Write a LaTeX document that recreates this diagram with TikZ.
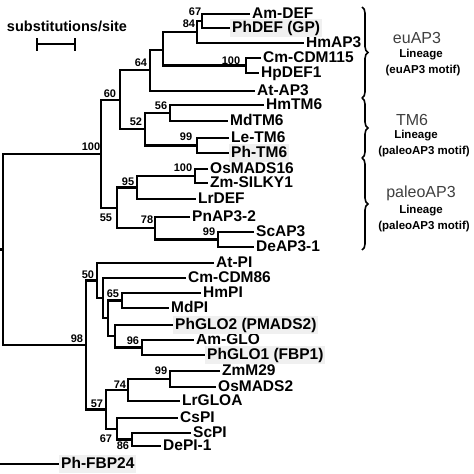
\documentclass[tikz,border=0pt]{standalone}
\usepackage{fontspec}
\setmainfont{Liberation Sans}
\usetikzlibrary{decorations.pathreplacing}

\begin{document}
\begin{tikzpicture}[x=1pt, y=-1pt, every node/.style={align=center}]
\tikzset{
  leaf/.style={font=\fontsize{15.5}{17}\selectfont\bfseries, anchor=west, inner xsep=2pt, inner ysep=1.5pt, text height=11.5pt, text depth=3pt},
  hl/.style={leaf, fill=gray!12},
  boot/.style={font=\fontsize{11}{12}\selectfont\bfseries, inner sep=0pt},
  branch/.style={line width=2.7pt},
  cladename/.style={font=\fontsize{16}{18}\selectfont, text=black!75, inner sep=0pt},
  lineage/.style={font=\fontsize{11.5}{13}\selectfont\bfseries, inner sep=0pt},
  bracket/.style={decorate, decoration={brace, amplitude=6pt}, line width=1.6pt}
}
\useasboundingbox (0,0) rectangle (474,474);

% leaves
\foreach \nm/\x/\y/\lbl in {amdef/250/14/Am-DEF, hmap3/304/43/HmAP3, cmcdm/261/58/Cm-CDM115,
    hpdef/259/73/HpDEF1, atap3/255/91/At-AP3, hmtm6/264/105/HmTM6, mdtm6/228/121/MdTM6,
    letm6/229/138/Le-TM6, osmads16/208/169/OsMADS16, zmsilky/208/183/Zm-SILKY1,
    lrdef/196/199/LrDEF, pnap3/190/217/PnAP3-2, scap3/254/232/ScAP3, deap3/254/247/DeAP3-1,
    atpi/214/263/At-PI, cmcdm86/186/278/Cm-CDM86, hmpi/201/293/HmPI, mdpi/169/308/MdPI,
    amglo/194/340/Am-GLO, zmm29/220/371/ZmM29, osmads2/216/387/OsMADS2,
    lrgloa/180/401/LrGLOA, cspi/178/418/CsPI, scpi/191/433/ScPI, depi/161/446/DePI-1}
  \node[leaf] (\nm) at (\x,\y) {\lbl};
\foreach \nm/\x/\y/\lbl in {phdef/230/28/{PhDEF (GP)}, phtm6/229/153/Ph-TM6,
    phglo2/173/325/{PhGLO2 (PMADS2)}, phglo1/205/355/{PhGLO1 (FBP1)}, phfbp/59/464/Ph-FBP24}
  \node[hl] (\nm) at (\x,\y) {\lbl};

% inner nodes of the tree
\coordinate (n67) at (202,21);
\coordinate (n84) at (197,32);
\coordinate (neu) at (163,50);
\coordinate (n100a) at (246,65.5);
\coordinate (n64) at (150,70);
\coordinate (n56) at (170,113);
\coordinate (n99a) at (197,145.5);
\coordinate (n52) at (145,129);
\coordinate (n60) at (120,100);
\coordinate (n100b) at (195,176);
\coordinate (n95) at (137,187.5);
\coordinate (n99b) at (218,239.5);
\coordinate (n78) at (155,228);
\coordinate (n55) at (117,208);
\coordinate (n100r) at (101,154);
\coordinate (n65) at (122,300.5);
\coordinate (n96) at (142,347.5);
\coordinate (nglo) at (115,336);
\coordinate (npi) at (108,318);
\coordinate (ncdm) at (103,298);
\coordinate (n50) at (97,280.5);
\coordinate (n99c) at (170,379);
\coordinate (n74) at (128,390);
\coordinate (n86) at (132,439.5);
\coordinate (n67b) at (117,429);
\coordinate (n57) at (106,409.5);
\coordinate (n98) at (86,345);
\coordinate (root) at (3,249.5);
\coordinate (stem) at (0,249.5);
\coordinate (fbpstem) at (0,464);

\foreach \a/\p/\b in {amdef.west/n67/phdef.west, n67/n84/hmap3.west, n84/neu/n100a,
    cmcdm.west/n100a/hpdef.west, neu/n64/atap3.west, hmtm6.west/n56/mdtm6.west,
    letm6.west/n99a/phtm6.west, n56/n52/n99a, n64/n60/n52,
    osmads16.west/n100b/zmsilky.west, n100b/n95/lrdef.west, scap3.west/n99b/deap3.west,
    pnap3.west/n78/n99b, n95/n55/n78, n60/n100r/n55,
    hmpi.west/n65/mdpi.west, amglo.west/n96/phglo1.west, phglo2.west/nglo/n96,
    n65/npi/nglo, cmcdm86.west/ncdm/npi, atpi.west/n50/ncdm,
    zmm29.west/n99c/osmads2.west, n99c/n74/lrgloa.west, scpi.west/n86/depi.west,
    cspi.west/n67b/n86, n74/n57/n67b, n50/n98/n57, n100r/root/n98}
  \draw[branch] (\a) -| (\p) |- (\b);
\draw[branch] (stem) -- (root);
\draw[branch] (fbpstem) -- (phfbp.west);

% bootstrap values
\foreach \nm/\x/\y/\v in {b67a/195/12/67, b84/189/24/84, b64/141/63/64, b100a/231/61/100,
    b60/110/94/60, b56/161/106/56, b52/136/122/52, b99a/186/137/99, b100r/91/147/100,
    b100b/183/168/100, b95/128/182/95, b55/106/218/55, b78/147/220/78, b99b/209/232/99,
    b50/88/275/50, b65/113/294/65, b98/77/339/98, b96/133/341/96, b99c/161/371/99,
    b74/120/385/74, b57/97/404/57, b67b/106/439/67, b86/123/446/86}
  \node[boot] (\nm) at (\x,\y) {\v};

% scale bar
\node[font=\fontsize{14.5}{16}\selectfont\bfseries, inner sep=0pt] (scaletext) at (67,26) {substitutions/site};
\coordinate (sbl) at (37,44);
\coordinate (sbr) at (75,44);
\draw[branch] (sbl) -- (sbr);
\foreach \c in {sbl,sbr}
  \draw[line width=2.4pt] ([yshift=-6.5pt]\c) -- ([yshift=6.5pt]\c);

% clades
\draw[bracket] (362,7) -- (362,98);
\draw[bracket] (362,98) -- (362,158);
\draw[bracket] (362,158) -- (362,250);
\node[cladename] (euname) at (417,38) {euAP3};
\node[lineage] (eulin) at (421,55) {Lineage};
\node[lineage] (eumotif) at (423,71) {(euAP3 motif)};
\node[cladename] (tmname) at (412,120) {TM6};
\node[lineage] (tmlin) at (416,136) {Lineage};
\node[lineage] (tmmotif) at (424,152) {(paleoAP3 motif)};
\node[cladename] (paname) at (421,193) {paleoAP3};
\node[lineage] (palin) at (421,211) {Lineage};
\node[lineage] (pamotif) at (424,227) {(paleoAP3 motif)};
\end{tikzpicture}
\end{document}
